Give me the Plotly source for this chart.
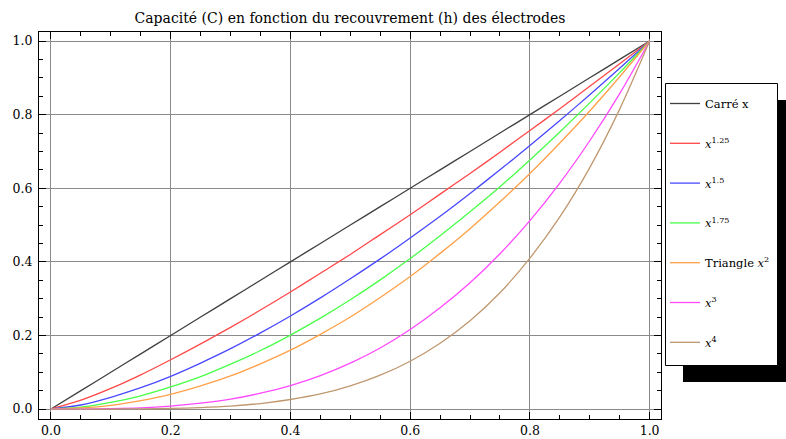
import plotly.graph_objects as go

# Data (recouvrement h vs capacité C)
h = [0.0, 0.05, 0.1, 0.15, 0.2, 0.25, 0.3, 0.35, 0.4, 0.45, 0.5,
     0.55, 0.6, 0.65, 0.7, 0.75, 0.8, 0.85, 0.9, 0.95, 1.0]
carre_x = [0.0, 0.05, 0.1, 0.15, 0.2, 0.25, 0.3, 0.35, 0.4, 0.45, 0.5,
           0.55, 0.6, 0.65, 0.7, 0.75, 0.8, 0.85, 0.9, 0.95, 1.0]
x_125 = [0.0, 0.024, 0.056, 0.093, 0.134, 0.177, 0.222, 0.269, 0.318, 0.369, 0.420,
         0.474, 0.528, 0.584, 0.640, 0.698, 0.757, 0.816, 0.877, 0.938, 1.0]
x_15 = [0.0, 0.011, 0.032, 0.058, 0.089, 0.125, 0.164, 0.207, 0.253, 0.302, 0.354,
        0.408, 0.465, 0.524, 0.586, 0.650, 0.716, 0.784, 0.854, 0.926, 1.0]
x_175 = [0.0, 0.005, 0.018, 0.036, 0.060, 0.088, 0.122, 0.159, 0.201, 0.247, 0.297,
         0.351, 0.409, 0.471, 0.536, 0.604, 0.677, 0.753, 0.832, 0.914, 1.0]
triangle_x2 = [0.0, 0.003, 0.010, 0.023, 0.040, 0.063, 0.090, 0.123, 0.160, 0.203, 0.250,
               0.303, 0.360, 0.423, 0.490, 0.563, 0.640, 0.723, 0.810, 0.903, 1.0]
x_3 = [0.0, 0.0001, 0.001, 0.003, 0.008, 0.016, 0.027, 0.043, 0.064, 0.091, 0.125,
       0.166, 0.216, 0.275, 0.343, 0.422, 0.512, 0.614, 0.729, 0.857, 1.0]
x_4 = [0.0, 0.0, 0.0001, 0.0005, 0.0016, 0.004, 0.008, 0.015, 0.026, 0.041, 0.063,
       0.092, 0.130, 0.179, 0.240, 0.316, 0.410, 0.522, 0.656, 0.815, 1.0]

series_names = ["Carré x", "<i>x</i><sup>1.25</sup>", "<i>x</i><sup>1.5</sup>",
                "<i>x</i><sup>1.75</sup>", "Triangle <i>x</i><sup>2</sup>",
                "<i>x</i><sup>3</sup>", "<i>x</i><sup>4</sup>"]
series_values = [carre_x, x_125, x_15, x_175, triangle_x2, x_3, x_4]
colors = ["#404040", "#FF4848", "#4848FF", "#48FF48", "#FFA048", "#FF48FF", "#C09870"]

tick_vals = [0.0, 0.2, 0.4, 0.6, 0.8, 1.0]
tick_text = ["0.0", "0.2", "0.4", "0.6", "0.8", "1.0"]

FONT = "DejaVu Serif"

fig = go.Figure()
for i, (name, vals, col) in enumerate(zip(series_names, series_values, colors)):
    fig.add_trace(go.Scatter(
        x=h, y=vals, mode="lines", name=name, legendgroup=f"g{i}",
        line=dict(color=col, width=1.3, shape="spline", smoothing=0.8),
    ))

# plot area in pixels
L, R, T, B = 39, 661, 32, 419
W, H = 786, 439
pw, ph = R - L, B - T

def px_x(p):
    return (p - L) / pw

def px_y(p):
    return (B - p) / ph

axis_common = dict(
    showline=True, linecolor="black", linewidth=1, mirror="ticks",
    ticks="inside", ticklen=7, tickwidth=1, tickcolor="black",
    showgrid=True, gridcolor="#8a8a8a", gridwidth=1, zeroline=False,
    tickvals=tick_vals, ticktext=tick_text, automargin=False,
    tickfont=dict(family=FONT, size=12.5, color="black"),
    minor=dict(ticks="inside", ticklen=4, tickcolor="black", dtick=0.05, showgrid=False),
)

fig.update_xaxes(range=[-0.02, 1.019], **axis_common)
fig.update_yaxes(range=[-0.027, 1.0245], ticklabelstandoff=3, **axis_common)

# legend shadow and legend frame
fig.add_shape(type="rect", xref="paper", yref="paper",
              x0=px_x(683), x1=px_x(800), y0=px_y(382), y1=px_y(100),
              fillcolor="black", line=dict(width=0), layer="above")
fig.add_shape(type="rect", xref="paper", yref="paper",
              x0=px_x(665.5), x1=px_x(777.5), y0=px_y(365.5), y1=px_y(83.5),
              fillcolor="white", line=dict(color="black", width=1), layer="above")

fig.update_layout(
    width=W, height=H,
    margin=dict(l=L, r=W - R, t=T, b=H - B, autoexpand=False),
    paper_bgcolor="white", plot_bgcolor="white",
    title=dict(text="Capacité (C) en fonction du recouvrement (h) des électrodes",
               xref="paper", x=0.5, xanchor="center", y=1 - 18 / H, yanchor="middle",
               font=dict(family=FONT, size=14, color="black")),
    font=dict(family=FONT, size=12, color="black"),
    legend=dict(x=px_x(665), y=px_y(89), xanchor="left", yanchor="top",
                bgcolor="rgba(0,0,0,0)", borderwidth=0,
                font=dict(family=FONT, size=11.5, color="black"),
                traceorder="grouped", tracegroupgap=20.8, itemwidth=30),
    showlegend=True,
)

fig.write_html("out.html", config={"displayModeBar": False},
               post_script="document.body.style.margin='0';")
